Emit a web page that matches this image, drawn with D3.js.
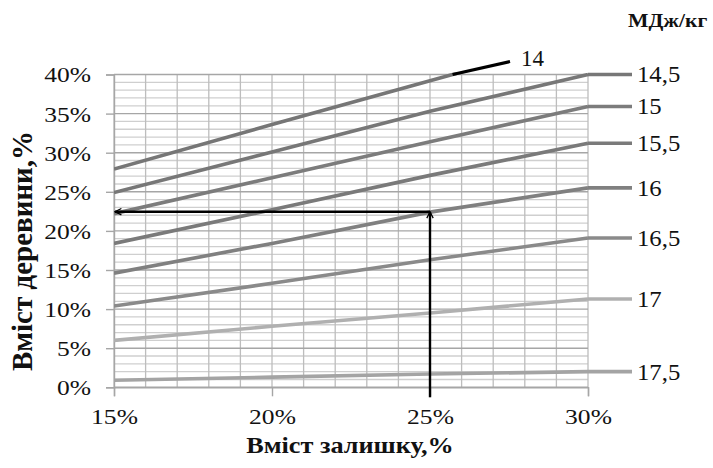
<!DOCTYPE html>
<meta charset="utf-8">
<script src="https://d3js.org/d3.v7.min.js"></script>
<style>
  body { margin: 0; background: #fff; }
</style>
<div id="my_dataviz"></div>
<script>
// x positions (Вміст залишку, %) and series values (Вміст деревини, %)
var xValues = [15, 20, 25, 30];
var seriesNames = ["14", "14,5", "15", "15,5", "16", "16,5", "17", "17,5"];
var s14   = [27.9, 33.6, 39.2, 44.8];
var s14_5 = [24.9, 30.1, 35.3, 40.0];
var s15   = [22.2, 26.8, 31.4, 35.9];
var s15_5 = [18.4, 22.7, 27.1, 31.2];
var s16   = [14.6, 18.4, 22.4, 25.5];
var s16_5 = [10.4, 13.3, 16.3, 19.1];
var s17   = [6.0, 7.8, 9.5, 11.3];
var s17_5 = [0.9, 1.3, 1.7, 2.0];
var yTicks = [0, 5, 10, 15, 20, 25, 30, 35, 40];
var xTicks = [15, 20, 25, 30];
// reading example: 25% residue -> 22.5% wood
var readX = 25, readY = 22.45;

var allSeries = [s14, s14_5, s15, s15_5, s16, s16_5, s17, s17_5];
var colors = ["#767676", "#777777", "#7c7c7c", "#7a7a7a", "#808080", "#8a8a8a", "#b0b0b0", "#a4a4a4"];
var FONT = "Liberation Serif";
var SX = 1.16;   // the scanned original has horizontally widened type

var W = 713, H = 468;
var svg = d3.select("#my_dataviz").append("svg")
  .attr("width", W).attr("height", H)
  .attr("font-family", FONT);

var x = d3.scaleLinear().domain([15, 30]).range([114, 588]);
var y = d3.scaleLinear().domain([0, 40]).range([387.3, 74.5]);

// grid
var grid = svg.append("g");
grid.selectAll(".hmin").data(d3.range(0, 41, 1).filter(function(d){ return d % 5 != 0; }))
  .enter().append("line")
  .attr("x1", x(15)).attr("x2", x(30))
  .attr("y1", function(d){ return y(d); }).attr("y2", function(d){ return y(d); })
  .attr("stroke", "#cfcfcf").attr("stroke-width", 1.3);
grid.selectAll(".v").data(d3.range(15, 31, 1))
  .enter().append("line")
  .attr("x1", function(d){ return x(d); }).attr("x2", function(d){ return x(d); })
  .attr("y1", y(40)).attr("y2", y(0))
  .attr("stroke", "#bdbdbd").attr("stroke-width", 1.3);
grid.selectAll(".hmaj").data(yTicks)
  .enter().append("line")
  .attr("x1", x(15)).attr("x2", x(30))
  .attr("y1", function(d){ return y(d); }).attr("y2", function(d){ return y(d); })
  .attr("stroke", "#a6a6a6").attr("stroke-width", 1.4);

// axes
var yAxis = svg.append("g").attr("transform", "translate(" + x(15) + ",0)")
  .call(d3.axisLeft(y).tickValues(yTicks).tickSize(8).tickPadding(15)
    .tickFormat(function(d){ return d + "%"; }));
var xAxis = svg.append("g").attr("transform", "translate(0," + y(0) + ")")
  .call(d3.axisBottom(x).tickValues(xTicks).tickSize(9).tickPadding(12)
    .tickFormat(function(d){ return d + "%"; }));
[yAxis, xAxis].forEach(function(a){
  a.attr("font-family", FONT).attr("font-size", 22);
  a.select(".domain").attr("stroke", "#a6a6a6").attr("stroke-width", 1.4);
  a.selectAll(".tick line").attr("stroke", "#a6a6a6").attr("stroke-width", 1.4);
  a.selectAll("text").style("font-family", FONT).style("font-size", "22px").attr("fill", "#111");
});
yAxis.selectAll("text").attr("dy", "0.34em")
  .attr("x", -23 / SX).attr("transform", "scale(" + SX + ",1)");
xAxis.selectAll("text").attr("transform", "scale(" + SX + ",1)");

// series lines (clipped to the plot area)
svg.append("clipPath").attr("id", "plotclip").append("rect")
  .attr("x", x(15)).attr("y", y(40) - 2).attr("width", x(30) - x(15) + 1).attr("height", y(0) - y(40) + 4);

var line = d3.line()
  .x(function(d, i){ return x(xValues[i]); })
  .y(function(d){ return y(d); });

svg.append("g").attr("clip-path", "url(#plotclip)")
  .selectAll("path").data(allSeries).enter().append("path")
  .attr("d", line)
  .attr("fill", "none")
  .attr("stroke", function(d, i){ return colors[i]; })
  .attr("stroke-width", 3.6);

function label(xp, yp, str, size, bold, sx) {
  return svg.append("text").attr("x", xp / sx).attr("y", yp).attr("dy", "0.35em")
    .attr("transform", "scale(" + sx + ",1)")
    .attr("fill", "#111")
    .style("font-family", FONT).style("font-size", size + "px")
    .style("font-weight", bold ? "bold" : "normal").text(str);
}

// legend stubs and labels on the right
allSeries.forEach(function(s, i){
  if (i == 0) return;
  var yy = y(s[s.length - 1]);
  svg.append("line").attr("x1", x(30)).attr("x2", 632).attr("y1", yy).attr("y2", yy)
    .attr("stroke", colors[i]).attr("stroke-width", 3.6);
  label(637, yy, seriesNames[i], 22.5, false, 1.1);
});

// label for "14": black leader from where the line leaves the top
var k = d3.bisector(function(d){ return d; }).left(s14, 40);
var t = (40 - s14[k - 1]) / (s14[k] - s14[k - 1]);
var xCross = xValues[k - 1] + t * (xValues[k] - xValues[k - 1]);
svg.append("line").attr("x1", x(xCross)).attr("y1", y(40)).attr("x2", 510).attr("y2", 61.5)
  .attr("stroke", "#000").attr("stroke-width", 3.2);
label(521, 58, seriesNames[0], 23, false, 1.0);

// unit label
label(628, 20, "МДж/кг", 19, true, 1.14);

// reading arrows
svg.append("defs").append("marker").attr("id", "arr")
  .attr("viewBox", "0 0 10 10").attr("refX", 9).attr("refY", 5)
  .attr("markerWidth", 8).attr("markerHeight", 8).attr("orient", "auto-start-reverse")
  .attr("markerUnits", "userSpaceOnUse")
  .append("path").attr("d", "M1,1 L9,5 L1,9").attr("fill", "none").attr("stroke", "#000").attr("stroke-width", 1.6);

svg.append("line").attr("x1", x(readX)).attr("y1", y(0) + 10).attr("x2", x(readX)).attr("y2", y(readY))
  .attr("stroke", "#000").attr("stroke-width", 2.4).attr("marker-end", "url(#arr)");
svg.append("line").attr("x1", x(readX)).attr("y1", y(readY)).attr("x2", x(15) + 1).attr("y2", y(readY))
  .attr("stroke", "#000").attr("stroke-width", 2.4).attr("marker-end", "url(#arr)");

// axis titles
label(350, 453, "Вміст залишку,%", 23, true, 1.14).attr("dy", null).attr("text-anchor", "middle");
svg.append("text").attr("transform", "translate(32,251) rotate(-90)")
  .attr("text-anchor", "middle").attr("fill", "#111")
  .style("font-family", FONT).style("font-size", "29px").style("font-weight", "bold")
  .text("Вміст деревини,%");
</script>
